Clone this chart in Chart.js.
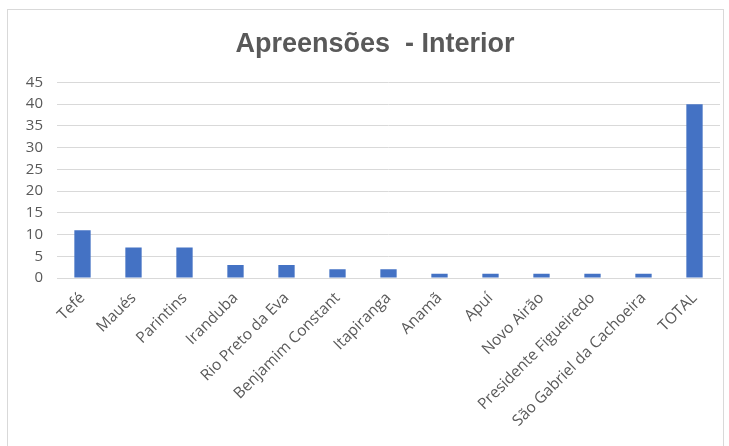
<!DOCTYPE html>
<html>
<head>
<meta charset="utf-8">
<script src="https://cdn.jsdelivr.net/npm/chart.js@4/dist/chart.umd.min.js"></script>
<style>
  html, body { margin: 0; padding: 0; background: #fff; }
  #frame { position: absolute; left: 7px; top: 9px; width: 717px; height: 460px; border: 1px solid #d9d9d9; box-sizing: border-box; }
  #c { position: absolute; left: 0; top: 0; }
</style>
</head>
<body>
<div id="frame"></div>
<canvas id="c" width="729" height="446"></canvas>
<script>
const chartTitle = 'Apreensões  - Interior';
const categories = ['Tefé', 'Maués', 'Parintins', 'Iranduba', 'Rio Preto da Eva', 'Benjamim Constant', 'Itapiranga', 'Anamã', 'Apuí', 'Novo Airão', 'Presidente Figueiredo', 'São Gabriel da Cachoeira', 'TOTAL'];
const apreensoes = [11, 7, 7, 3, 3, 2, 2, 1, 1, 1, 1, 1, 40];
const yTicks = [0, 5, 10, 15, 20, 25, 30, 35, 40, 45];

const grey = '#595959';

// Centre the title over the framed chart (the frame's centre) rather than the canvas.
const titleShift = {
  id: 'titleShift',
  afterLayout(chart) {
    const t = chart.titleBlock;
    if (t) { t.left = 30; t.right = 720; t.width = 690; }
  }
};

new Chart(document.getElementById('c'), {
  type: 'bar',
  data: {
    labels: categories,
    datasets: [{
      data: apreensoes,
      backgroundColor: '#4472C4',
      barPercentage: 0.64,
      categoryPercentage: 0.5
    }]
  },
  plugins: [titleShift],
  options: {
    responsive: false,
    animation: false,
    layout: { padding: { left: 0, right: 9, top: 0, bottom: 0 } },
    plugins: {
      legend: { display: false },
      tooltip: { enabled: false },
      title: {
        display: true,
        text: chartTitle,
        color: grey,
        font: { family: "'Liberation Sans', Arial, sans-serif", size: 27, weight: 'bold', lineHeight: 1.2 },
        padding: { top: 28, bottom: 22 }
      }
    },
    scales: {
      x: {
        grid: { display: false, drawTicks: false },
        border: { display: true, color: '#d9d9d9' },
        ticks: {
          color: grey,
          font: { family: "'Open Sans', 'Noto Sans', sans-serif", size: 15.5 },
          maxRotation: 45,
          minRotation: 45,
          padding: 11,
          autoSkip: false
        },
        afterFit: (s) => { s.height = 168; }
      },
      y: {
        min: 0,
        max: 45,
        afterBuildTicks: (s) => { s.ticks = yTicks.map(v => ({ value: v })); },
        grid: { color: '#d9d9d9', drawTicks: false },
        border: { display: false },
        ticks: {
          color: grey,
          font: { family: "'Open Sans', 'Noto Sans', sans-serif", size: 15 },
          padding: 14
        },
        afterFit: (s) => { s.width = 57; }
      }
    }
  }
});
</script>
</body>
</html>
